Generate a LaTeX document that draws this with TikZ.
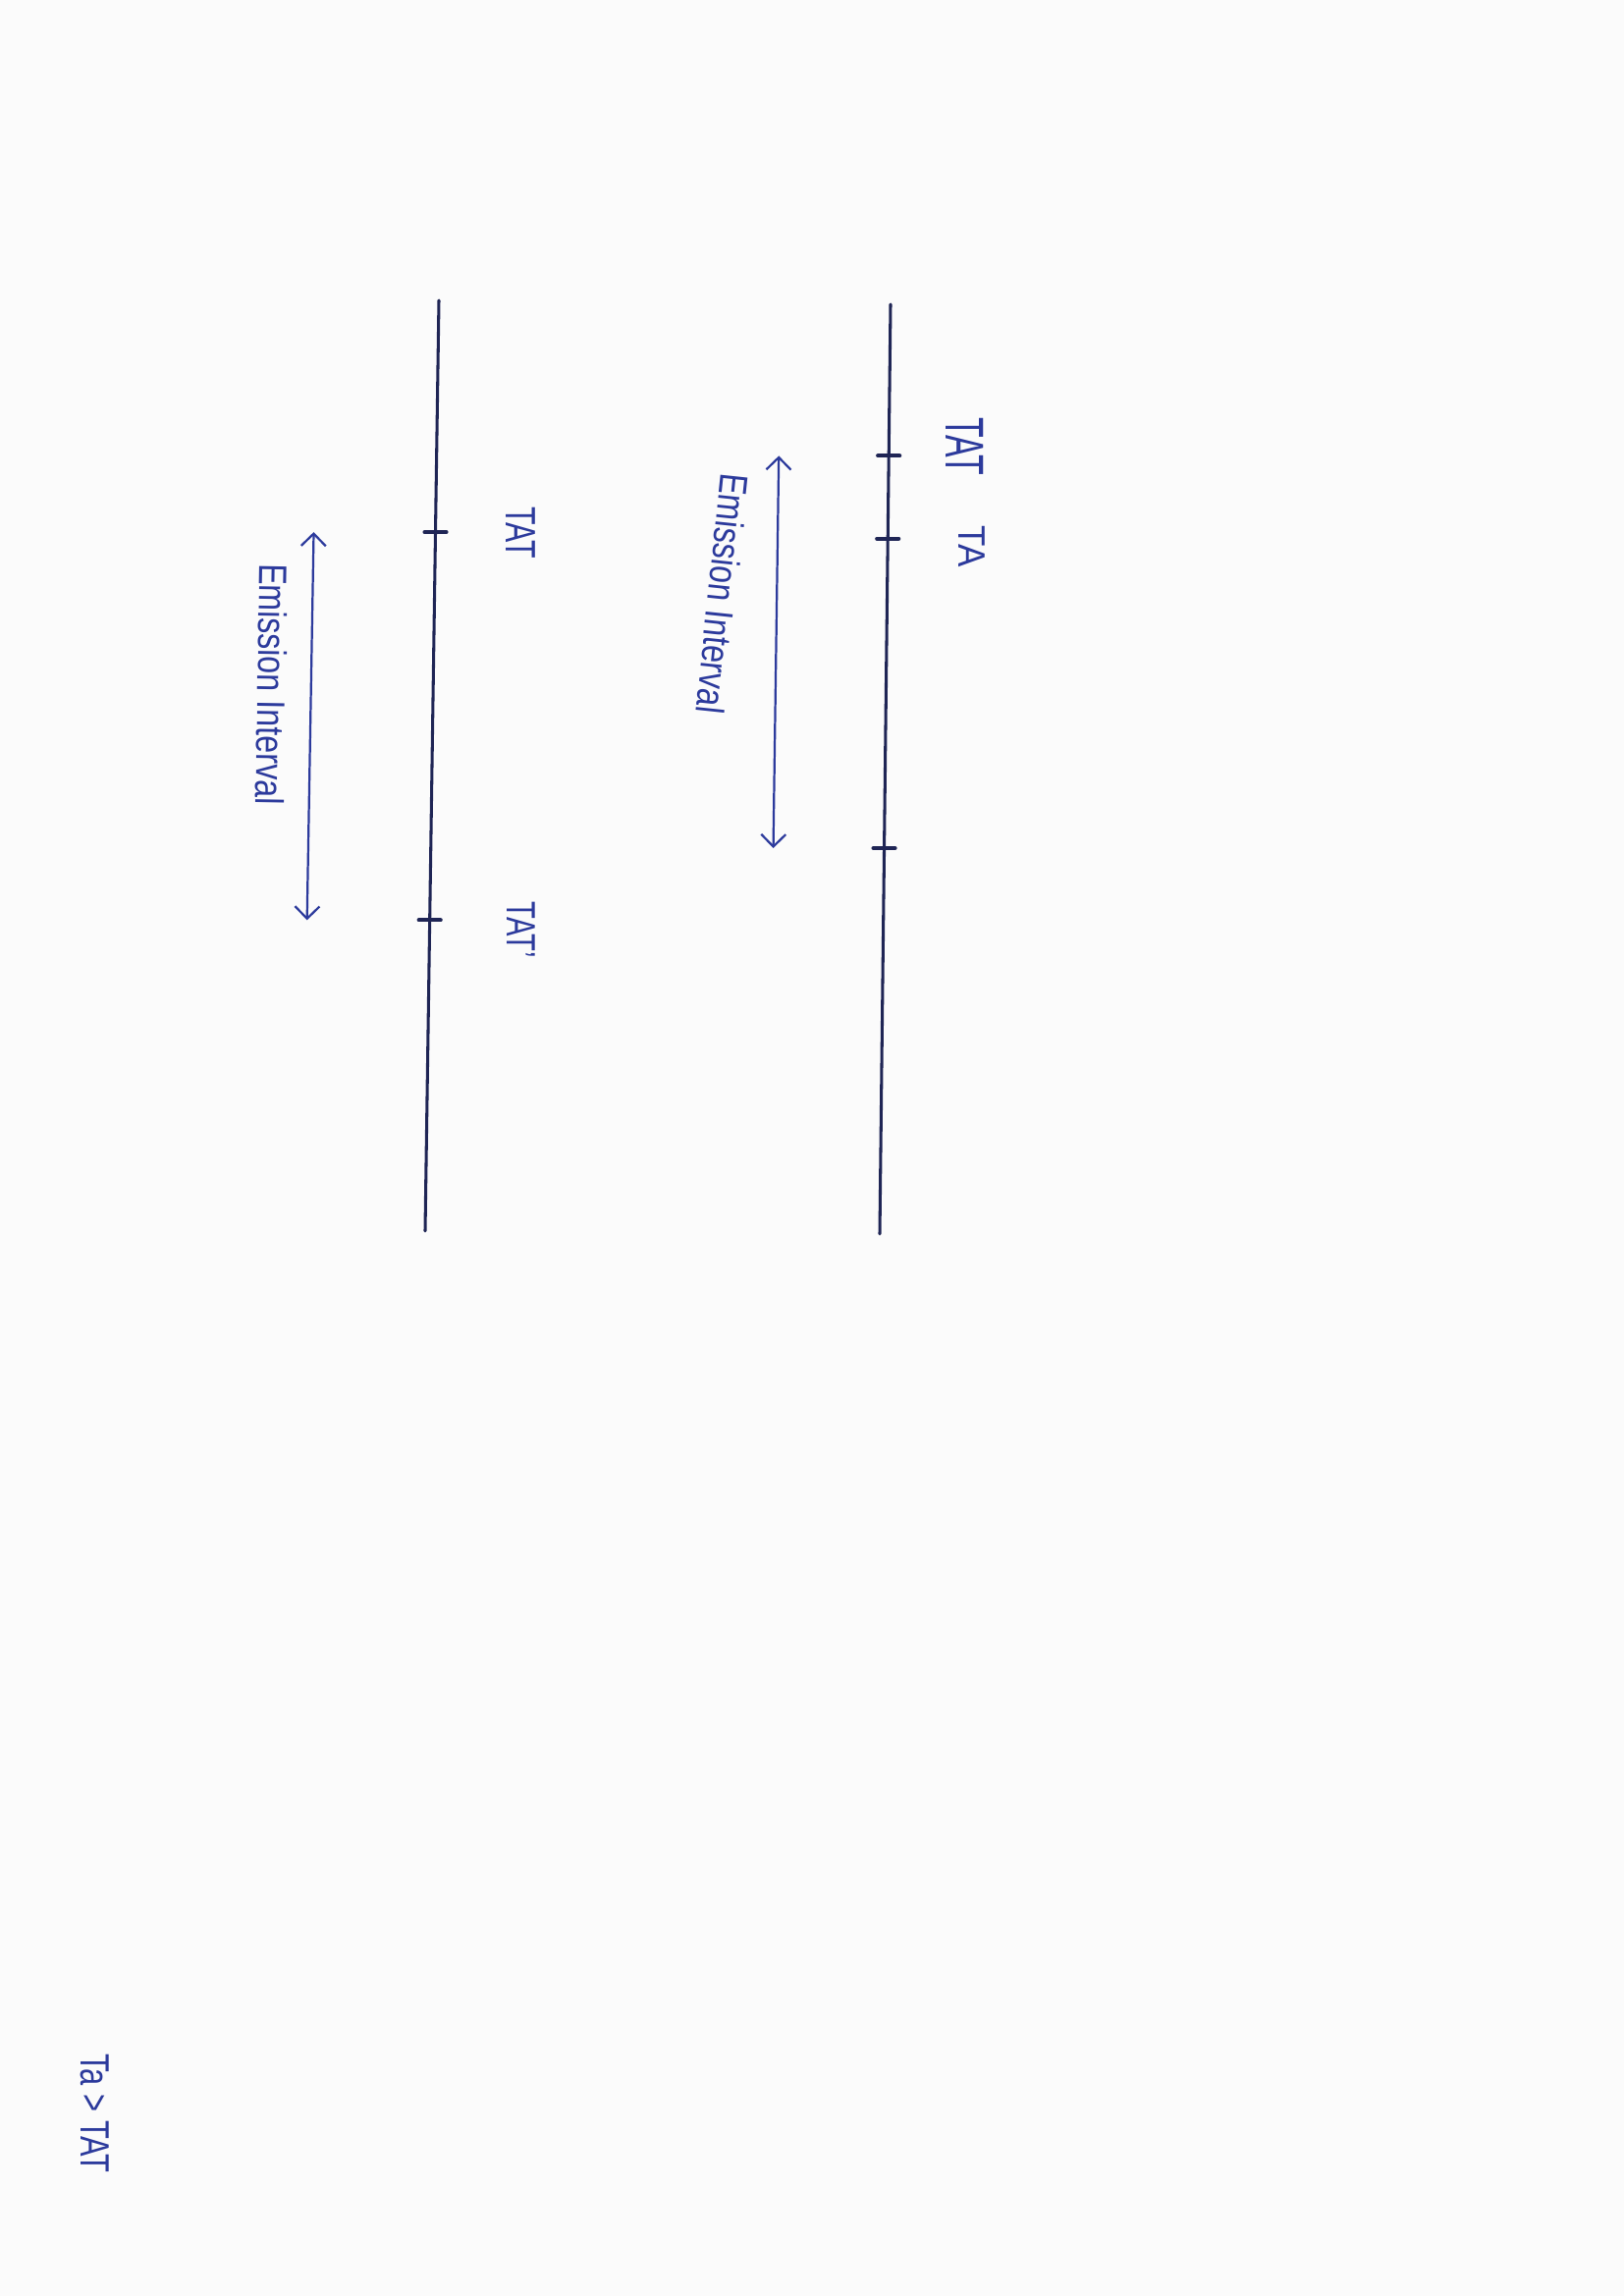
\documentclass[tikz,border=0pt]{standalone}
\usepackage{fontspec}
\setmainfont{Liberation Sans}
\usetikzlibrary{arrows.meta,calc}
\definecolor{paper}{HTML}{FBFBFB}
\definecolor{pen}{HTML}{1F2555}
\definecolor{ink}{HTML}{2C3A9C}
\tikzset{
	timeline/.style={pen, line width=1.1pt, line cap=round},
	tickmark/.style={pen, line width=1.5pt, line cap=round},
	interval/.style={ink, line width=0.8pt, {Straight Barb[length=4.5pt,width=9pt]}-{Straight Barb[length=4.5pt,width=9pt]}},
	hand/.style={text=ink, inner sep=0pt, rotate=-90}
}

\begin{document}
\begin{tikzpicture}[x=0.3599pt, y=-0.3599pt]
		\fill[paper] (0,0) rectangle (1654,2339);
		\useasboundingbox (0,0) rectangle (1654,2339);
		\coordinate (R1) at (907,310);
		\coordinate (R2) at (896,1257);
		\coordinate (L1) at (447,306);
		\coordinate (L2) at (433,1254);
		\coordinate (rTAT) at ($(R1)!0.163!(R2)$);
		\coordinate (rTA) at ($(R1)!0.252!(R2)$);
		\coordinate (rNext) at ($(R1)!0.585!(R2)$);
		\coordinate (lTAT) at ($(L1)!0.249!(L2)$);
		\coordinate (lTATp) at ($(L1)!0.666!(L2)$);
		\draw[timeline] (R1)--(R2);
		\draw[timeline] (L1)--(L2);
		\foreach \p in {rTAT, rTA, rNext, lTAT, lTATp}
		\draw[tickmark] ($(\p)+(-11,0)$)--($(\p)+(11,0)$);
		\draw[interval] ($(rTAT)+(-112,0)$)--($(rNext)+(-113,0)$);
		\draw[interval] ($(lTAT)+(-124,0)$)--($(lTATp)+(-125,0)$);
		\node[hand, font=\fontsize{20}{20}\selectfont, xscale=0.61] (tatR) at (983,455) {TAT};
		\node[hand, font=\fontsize{14}{14}\selectfont, xscale=0.9] (taR) at (990,557) {TA};
		\node[hand, rotate=-6, font=\fontsize{14.5}{14.5}\selectfont, xscale=0.8] (emitR) at (736,605) {Emission Interval};
		\node[hand, font=\fontsize{15.6}{15.6}\selectfont, xscale=0.7] (tatL) at (530,543) {TAT};
		\node[hand, font=\fontsize{15}{15}\selectfont, xscale=0.7] (tatpL) at (531,947) {TAT'};
		\node[hand, rotate=-1, font=\fontsize{14.5}{14.5}\selectfont, xscale=0.8] (emitL) at (277,697) {Emission Interval};
		\node[hand, font=\fontsize{15}{15}\selectfont, xscale=0.74] (cond) at (97,2153) {Ta > TAT};
	\end{tikzpicture}
\end{document}
